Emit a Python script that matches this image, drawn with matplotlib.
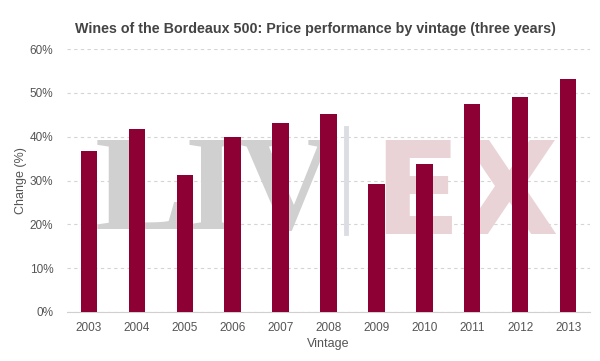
import matplotlib.pyplot as plt
from matplotlib.ticker import PercentFormatter

plt.rcParams['font.family'] = ['Liberation Sans', 'DejaVu Sans']

# Bordeaux 500 price performance by vintage
vintages = ['2003', '2004', '2005', '2006', '2007', '2008',
            '2009', '2010', '2011', '2012', '2013']
change = [36.8, 41.8, 31.3, 39.9, 43.1, 45.1, 29.2, 33.7, 47.5, 49.1, 53.1]

fig = plt.figure(figsize=(6, 3.61), dpi=100)
ax = fig.add_axes([0.112, 0.136, 0.871, 0.728])

# watermark, behind the bars
ax.text(0.158, 0.455, "LIV", fontsize=98, fontweight='bold', family='Liberation Serif',
        color='#d0d0d0', ha='left', va='center', zorder=1, transform=fig.transFigure)
ax.add_artist(plt.Line2D([0.576, 0.576], [0.355, 0.645], color='#dcdce4', lw=3.5,
                         zorder=1, transform=fig.transFigure))
ax.text(0.622, 0.45, "EX", fontsize=92, fontweight='bold', family='DejaVu Sans',
        color='#e9d3d7', ha='left', va='center', zorder=1, transform=fig.transFigure)

x = range(len(vintages))
ax.bar(x, change, width=0.34, color='#8c0033', zorder=3)

ax.set_xlim(-0.45, len(vintages) - 0.55)
ax.set_ylim(0, 60)
ax.set_yticks(range(0, 61, 10))
ax.yaxis.set_major_formatter(PercentFormatter(decimals=0))
ax.set_xticks(list(x))
ax.set_xticklabels(vintages)
ax.grid(axis='y', color='#d4d4d4', linestyle=(0, (3, 3)), linewidth=0.8, zorder=0)
ax.set_axisbelow(True)

for s in ['top', 'right', 'left']:
    ax.spines[s].set_visible(False)
ax.spines['bottom'].set_color('#d0d0d0')
ax.tick_params(axis='both', length=0, labelsize=8.5, colors='#555555', pad=7)
ax.tick_params(axis='y', pad=10)

ax.set_xlabel("Vintage", fontsize=9, color='#555555', labelpad=3)
ax.set_ylabel("Change (%)", fontsize=9, color='#555555', labelpad=2)
fig.suptitle("Wines of the Bordeaux 500: Price performance by vintage (three years)",
             x=0.525, y=0.94, fontsize=10.3, fontweight='bold', color='#444444')

fig.savefig('out.png', dpi=100)
